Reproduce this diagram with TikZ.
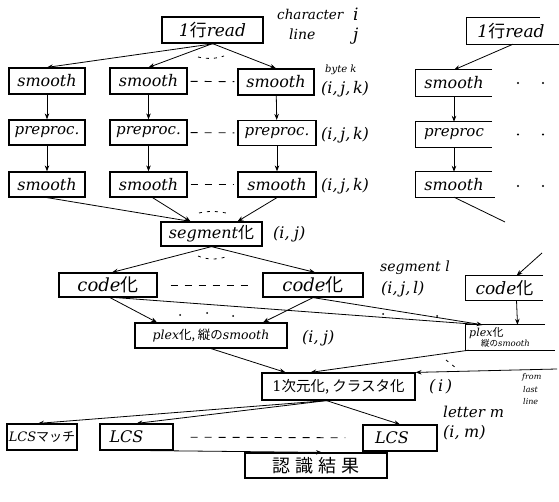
\documentclass[tikz,border=0pt]{standalone}
\usepackage{fontspec}
\newfontfamily\jp{Noto Sans CJK JP}
\newfontfamily\hand{DejaVu Serif}
\newcommand\J[1]{{\jp #1}}
\usetikzlibrary{arrows.meta}
\begin{document}
\begin{tikzpicture}[x=1pt,y=-1pt,
  every node/.style={inner sep=1pt},
  box/.style={draw, line width=1.2pt, minimum height=25pt, inner sep=0pt, font=\hand\itshape\fontsize{16}{18}\selectfont},
  obox/.style={minimum height=25pt, inner sep=0pt, font=\hand\itshape\fontsize{16}{18}\selectfont},
  boxline/.style={line width=1.2pt},
  arr/.style={line width=0.8pt, -{Stealth[length=6pt,width=4.5pt]}},
  ln/.style={line width=0.8pt},
  dsh/.style={line width=0.9pt, dash pattern=on 7pt off 7pt},
  dts/.style={line width=0.8pt, dash pattern=on 3pt off 5pt},
  lab/.style={anchor=west, inner sep=0pt, font=\hand\itshape\fontsize{16}{18}\selectfont},
  slab/.style={anchor=west, inner sep=0pt, font=\hand\itshape\fontsize{14}{16}\selectfont},
  tiny/.style={anchor=west, inner sep=0pt, font=\hand\itshape\fontsize{8}{8.5}\selectfont}
]
\useasboundingbox (0,0) rectangle (559,502);

% ---------- top
\node[box, minimum width=101pt, minimum height=26pt, font=\hand\itshape\fontsize{17}{19}\selectfont] (read) at (212.5,30) {1\J{行}read};
\node[slab, font=\hand\itshape\fontsize{13.5}{16}\selectfont] (lchar) at (277,14) {character};
\node[lab, font=\hand\itshape\fontsize{17}{18}\selectfont] (li) at (353,14) {i};
\node[lab, font=\hand\itshape\fontsize{14}{16}\selectfont] (lline) at (289,34) {line};
\node[lab, font=\hand\itshape\fontsize{17}{18}\selectfont] (lj) at (353,36) {j};

% ---------- row smooth
\node[box, minimum width=76pt, minimum height=26pt] (s1a) at (47,81) {smooth};
\node[box, minimum width=77pt, minimum height=26pt] (s1b) at (148.5,81) {smooth};
\node[box, minimum width=76pt, minimum height=26pt] (s1c) at (276,82) {smooth};
\node[tiny, font=\hand\itshape\fontsize{10}{11}\selectfont] (lbyte) at (325,70) {byte k};
\node[lab] (l1) at (321,89) {(i,\,j,\,k)};

% ---------- row preproc
\node[box, minimum width=76pt, font=\hand\itshape\fontsize{15}{17}\selectfont] (pa) at (47,132.5) {preproc.};
\node[box, minimum width=77pt, font=\hand\itshape\fontsize{15}{17}\selectfont] (pb) at (148.5,132.5) {preproc.};
\node[box, minimum width=78pt, font=\hand\itshape\fontsize{15}{17}\selectfont] (pc) at (277,133) {preproc.};
\node[lab] (l2) at (321,135) {(i,\,j,\,k)};

% ---------- row smooth 2
\node[box, minimum width=76pt] (s2a) at (47,184.5) {smooth};
\node[box, minimum width=77pt] (s2b) at (148.5,184.5) {smooth};
\node[box, minimum width=78pt] (s2c) at (277,184.5) {smooth};
\node[lab] (l3) at (321,186) {(i,\,j,\,k)};

% ---------- right column (open boxes)
\node[obox, minimum width=88pt, minimum height=26pt, font=\hand\itshape\fontsize{17}{19}\selectfont] (rread) at (511,31) {1\J{行}read};
\draw[boxline] ([xshift=-15pt]rread.north east) -- (rread.north west) -- (rread.south west) -- ([xshift=4pt]rread.south east);
\node[obox, minimum width=76pt, minimum height=26pt] (rs1) at (454,83) {smooth};
\draw[boxline] (rs1.north east) -- (rs1.north west) -- (rs1.south west) -- (rs1.south east);
\node[obox, minimum width=76pt, font=\hand\itshape\fontsize{15}{17}\selectfont] (rp) at (454,134.5) {preproc};
\draw[boxline] (rp.north east) -- (rp.north west) -- (rp.south west) -- (rp.south east);
\node[obox, minimum width=76pt] (rs2) at (454,184.5) {smooth};
\draw[boxline] (rs2.north east) -- (rs2.north west) -- (rs2.south west) -- ([xshift=3pt]rs2.south east);
\foreach \y in {83,134.5,186} {
  \fill (518,\y) circle (1.2pt);
  \fill (543,\y) circle (1.2pt);
}
\coordinate (rs2end) at (505,222);

% ---------- segment
\node[box, minimum width=101pt, minimum height=24pt] (seg) at (211.5,234) {segment\J{化}};
\node[lab] (l4) at (273,234) {(i,\;j)};

% ---------- code
\node[box, minimum width=98pt, minimum height=24pt, font=\hand\itshape\fontsize{18}{20}\selectfont] (c1) at (108,285) {code\J{化}};
\node[box, minimum width=100pt, minimum height=24pt, font=\hand\itshape\fontsize{18}{20}\selectfont] (c2) at (313,285) {code\J{化}};
\node[slab] (lseg) at (380,268) {segment l};
\node[lab] (l5) at (381,289) {(i,\,j,\,l)};
\node[obox, minimum width=77pt, minimum height=24pt, font=\hand\itshape\fontsize{17}{19}\selectfont] (rcode) at (504.5,288) {code\J{化}};
\draw[boxline] (rcode.north east) -- (rcode.north west) -- (rcode.south west) -- (rcode.south east);
\coordinate (rcin) at (542,253);

% ---------- plex
\node[box, minimum width=152pt, minimum height=25pt, font=\hand\itshape\fontsize{12.5}{14}\selectfont] (plex) at (211,335.5) {plex\J{化, 縦の}smooth};
\node[lab] (l6) at (302,338) {(i,\;j)};
\node[obox, minimum width=79pt, minimum height=25pt, align=left, font=\hand\itshape\fontsize{11}{11}\selectfont] (rplex) at (505.5,337.5) {\hspace*{-12pt}plex\J{化}\\[-1pt]{\fontsize{8.5}{9}\selectfont\J{縦の}smooth}};
\draw[boxline] (rplex.north east) -- (rplex.north west) -- (rplex.south west) -- ([xshift=10pt]rplex.south east);

% ---------- 1D / cluster
\node[box, minimum width=153pt, minimum height=27pt, font=\hand\fontsize{14.5}{16}\selectfont] (dim) at (338.5,386.5) {1\J{次元化, クラスタ化}};
\node[lab] (l7) at (429,387) {(\,i\,)};
\node[tiny] (lfrom) at (522,377) {from};
\node[tiny] (llast) at (523,390) {last};
\node[tiny] (lline2) at (523,402) {line};
\coordinate (fromlast) at (557,369);

% ---------- LCS
\node[box, minimum width=70pt, minimum height=26pt, font=\hand\itshape\fontsize{13}{15}\selectfont] (lcsm) at (42,437) {LCS\J{マッチ}};
\node[box, minimum width=73pt, minimum height=26pt] (lcs2) at (136.5,437) {\hspace*{-20pt}LCS};
\node[box, minimum width=74pt, minimum height=26pt] (lcs3) at (400,438) {\hspace*{-16pt}LCS};
\node[slab, font=\hand\itshape\fontsize{15}{17}\selectfont] (llet) at (443,412) {letter m};
\node[lab] (l8) at (443,433) {(i,\;m)};

% ---------- result
\node[box, minimum width=142pt, minimum height=25pt, font=\jp\fontsize{18}{20}\selectfont] (res) at (316,465.5) {認\hspace{5pt}識\hspace{5pt}結\hspace{5pt}果};

% ================= connectors
\draw[arr] ([xshift=2pt]read.south) -- (s1a.north);
\draw[arr] (read.south) -- (s1b.north);
\draw[arr] (read.south) -- (s1c.north);
\draw[dts] (198,57) .. controls (206,59) and (216,59) .. (224,56);

\draw[arr] (s1a) -- (pa);
\draw[arr] (s1b) -- (pb);
\draw[arr] (s1c) -- (pc);
\draw[arr] (pa) -- (s2a);
\draw[arr] (pb) -- (s2b);
\draw[arr] (pc) -- (s2c);

\draw[dsh, shorten <=3pt, shorten >=3pt] (s1b) -- (s1c);
\draw[dsh, shorten <=3pt, shorten >=3pt] (pb) -- (pc);
\draw[dsh, shorten <=3pt, shorten >=3pt] (s2b) -- (s2c);

\draw[arr] ([xshift=2pt]rread.south) -- (rs1.north);
\draw[arr] (rs1) -- (rp);
\draw[arr] (rp) -- (rs2);
\draw[ln] (rs2.south) -- (rs2end);

\draw[arr] (s2a.south) -- ([xshift=-21pt]seg.north);
\draw[arr] ([xshift=4pt]s2b.south) -- ([xshift=-21pt]seg.north);
\draw[arr] (s2c.south) -- ([xshift=26pt]seg.north);
\draw[dts] (199,213) .. controls (207,211) and (217,211) .. (226,213);

\draw[arr] (seg.south) -- ([xshift=4pt]c1.north);
\draw[arr] (seg.south) -- ([xshift=2pt]c2.north);
\draw[dts] (198,256) .. controls (207,260) and (219,260) .. (228,256);
\draw[dsh, shorten <=13pt, shorten >=8pt] (c1) -- (c2);

\draw[arr] (rcin) -- ([xshift=12pt]rcode.north);
\draw[arr] ([xshift=12pt]rcode.south) -- ([xshift=12pt]rplex.north);

\draw[arr] ([xshift=2pt]c1.south) -- ([xshift=-54pt]plex.north);
\draw[arr] (c2.south) -- ([xshift=52pt]plex.north);
\draw[ln] ([xshift=8pt]c1.south) -- ([xshift=-23pt]rplex.north);
\draw[arr] (c2.south) -- ([xshift=-23pt]rplex.north);
\foreach \p in {(180,315),(207,313),(233,316),(383,314),(437,316)} \fill \p circle (1pt);

\draw[arr] (plex.south) -- ([xshift=-53pt]dim.north);
\draw[arr] ([xshift=3pt]rplex.south west) -- ([xshift=-28pt]dim.north);
\draw[arr] (fromlast) -- (dim.north east);
\draw[dts] (446,360) -- (456,368);

\draw[arr] ([xshift=-12pt]dim.south) -- ([xshift=-4pt]lcsm.north);
\draw[arr] ([xshift=-12pt]dim.south) -- (lcs2.north);
\draw[arr] ([xshift=-12pt]dim.south) -- (lcs3.north);
\draw[dsh, shorten <=17pt, shorten >=17pt] (lcs2) -- (lcs3);

\draw[arr] ([xshift=14pt]lcs2.south) -- ([xshift=6pt]res.north);
\end{tikzpicture}
\end{document}
